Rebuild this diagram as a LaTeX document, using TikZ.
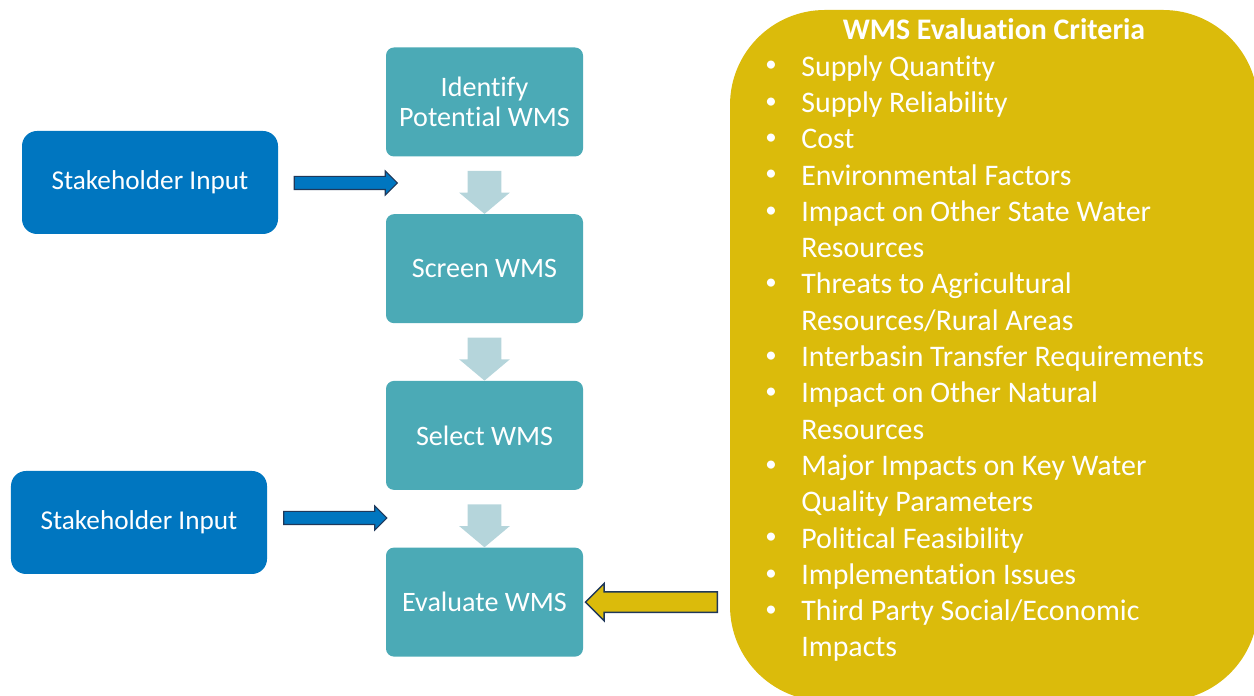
\documentclass[tikz,border=0pt]{standalone}
\usepackage{fontspec}
\setmainfont{Carlito}[Ligatures=NoCommon]
\usetikzlibrary{positioning,shapes.arrows,calc}
\definecolor{stakeblue}{RGB}{0,118,192}
\definecolor{stepteal}{RGB}{75,170,182}
\definecolor{critgold}{RGB}{219,187,11}
\definecolor{flowpale}{RGB}{181,213,219}
\definecolor{arrowline}{RGB}{31,56,90}
\newcommand{\critem}[1]{\makebox[7.2mm][l]{\raisebox{0.3ex}{\fontsize{13}{13}\selectfont\textbullet}}#1}
\newcommand{\critcont}[1]{\hspace*{7.2mm}#1}
\tikzset{
  stakebox/.style={rectangle,rounded corners=3mm,fill=stakeblue,text=white,minimum width=51.2mm,minimum height=20.6mm,font=\fontsize{15.5}{18}\selectfont},
  stepbox/.style={rectangle,rounded corners=1.6mm,fill=stepteal,text=white,minimum width=39.4mm,minimum height=21.8mm,align=center,font=\fontsize{16}{17}\selectfont},
  critbox/.style={rectangle,rounded corners=19mm,fill=critgold,minimum width=105.6mm,minimum height=138.2mm},
  flow/.style={single arrow,fill=flowpale,minimum height=8.6mm,minimum width=10mm,single arrow head extend=1.7mm,single arrow tip angle=100,inner xsep=0pt,inner ysep=3.3mm,rotate=-90},
  push/.style={single arrow,draw=arrowline,fill=stakeblue,line width=0.6pt,minimum height=20.6mm,minimum width=4.6mm,single arrow head extend=1.1mm,inner xsep=0pt,inner ysep=1.2mm},
  pull/.style={single arrow,draw=arrowline,fill=critgold,line width=0.8pt,minimum height=26.4mm,minimum width=7.2mm,single arrow head extend=1.7mm,inner xsep=0pt,inner ysep=1.9mm,rotate=180}
}
\begin{document}
\begin{tikzpicture}[node distance=11.4mm]
\clip (0,0) rectangle (25.08,13.92);
% process column
\node[stepbox] (ident) at (9.69,11.88) {Identify\\Potential WMS};
\node[stepbox,below=of ident] (screen) {Screen WMS};
\node[stepbox,below=of screen] (select) {Select WMS};
\node[stepbox,below=of select] (eval) {Evaluate WMS};
\node[flow] (f1) at ($(ident.south)!0.5!(screen.north)$) {};
\node[flow] (f2) at ($(screen.south)!0.5!(select.north)$) {};
\node[flow] (f3) at ($(select.south)!0.5!(eval.north)$) {};
% stakeholder inputs
\node[stakebox] (stake1) at (3.0,10.27) {Stakeholder Input};
\node[stakebox] (stake2) at (2.78,3.47) {Stakeholder Input};
\node[push] (p1) at (6.85,10.26) {};
\node[push] (p2) at (6.64,3.56) {};
% criteria panel
\node[critbox] (crit) at (19.88,6.81) {};
\node[anchor=base,text=white,font=\fontsize{17}{20.66}\selectfont\bfseries] (crittitle) at (19.88,13.12) {WMS Evaluation Criteria};
\node[anchor=north west,inner sep=0pt,align=left,text=white,font=\fontsize{17}{20.66}\selectfont] (critlist) at (15.30,12.82) {%
\critem{Supply Quantity}\\
\critem{Supply Reliability}\\
\critem{Cost}\\
\critem{Environmental Factors}\\
\critem{Impact on Other State Water}\\
\critcont{Resources}\\
\critem{Threats to Agricultural}\\
\critcont{Resources/Rural Areas}\\
\critem{Interbasin Transfer Requirements}\\
\critem{Impact on Other Natural}\\
\critcont{Resources}\\
\critem{Major Impacts on Key Water}\\
\critcont{Quality Parameters}\\
\critem{Political Feasibility}\\
\critem{Implementation Issues}\\
\critem{Third Party Social/Economic}\\
\critcont{Impacts}};
\node[pull] (back) at ($(eval.east)!0.5!(crit.west |- eval.east)$) {};
\end{tikzpicture}
\end{document}
